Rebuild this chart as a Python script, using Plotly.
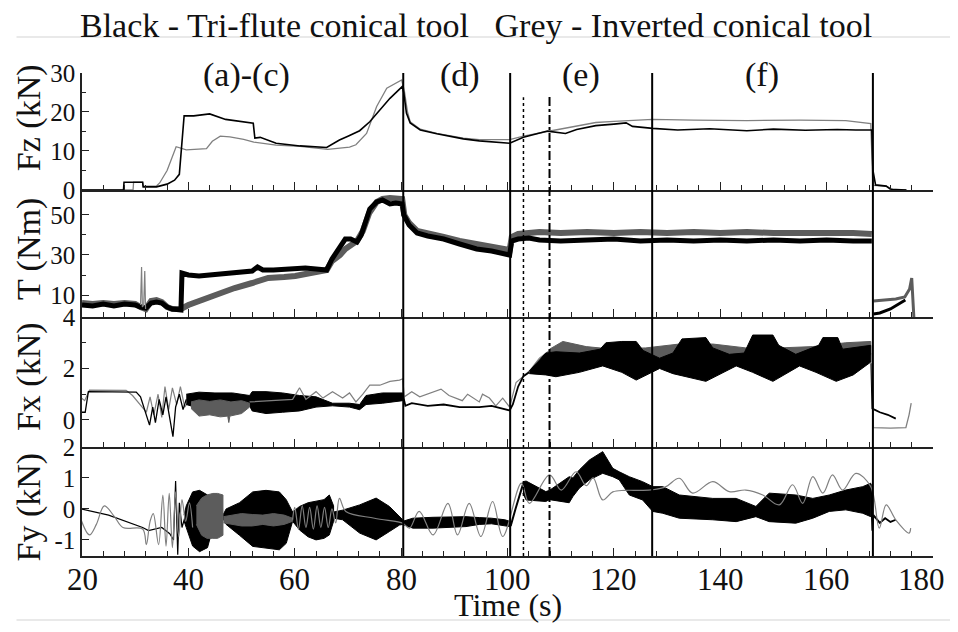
import plotly.graph_objects as go
from plotly.subplots import make_subplots

# ---------------- data ----------------
# Fz (kN)
fz_black_t = [20, 27.8, 27.9, 31.4, 31.5, 34.0, 36.0, 37.4, 38.3, 39.2, 41.0, 44.0, 47.0, 50.0, 51.5, 52.2, 52.5, 53.5,
              56.5, 61.0, 66.0, 68.4, 70.0, 72.2, 74.1, 76.0, 77.9, 80.2, 80.5, 81.0, 81.7, 83.6, 86.7, 91.7, 94.7,
              100.4, 103.0, 107.5, 110.9, 113.0, 116.6, 120.0, 122.3, 123.5, 127.3, 132.0, 138.0, 145.0, 150.0, 156.0,
              162.0, 165.5, 168.5, 168.7, 169.2, 171.2, 172.0, 175.0]
fz_black = [0, 0, 2, 2, 0.8, 0.8, 1.5, 2.5, 4, 19, 19, 19.5, 18.1, 17.6, 17.4, 17.1, 13.3, 13.5,
            12.0, 11.3, 10.9, 12.8, 13.8, 15.2, 17.5, 20.5, 23.5, 26.5, 24.9, 19.7, 17.2, 15.4, 14.4, 13.1, 12.6,
            12.0, 13.5, 15.1, 14.5, 15.5, 16.5, 16.9, 17.2, 16.3, 15.8, 15.4, 15.7, 15.2, 15.6, 15.3,
            15.5, 15.4, 15.4, 5.1, 1.3, 1.0, 0.2, 0]
fz_grey_t = [20, 29.6, 29.7, 31.4, 31.5, 34.0, 34.6, 36.0, 37.7, 39.6, 43.4, 44.5, 46.0, 47.8, 50.4, 52.3, 56.5, 61.0,
             66.2, 70.3, 71.5, 73.5, 75.4, 77.3, 80.1, 80.6, 81.2, 81.7, 83.6, 86.7, 91.7, 94.7, 100.4, 103.0, 107.5,
             112.0, 116.6, 120.0, 124.0, 127.3, 135.0, 145.0, 155.0, 163.6, 168.3, 168.7, 171.2, 172.5, 175.0]
fz_grey = [0, 0, 2, 2, 1, 1, 1.8, 5, 11.1, 10.3, 10.6, 12.5, 13.8, 13.6, 13.0, 12.3, 11.5, 11.2,
           10.4, 11.0, 11.6, 14.5, 21.4, 26.1, 28.2, 25.5, 20.0, 17.5, 15.6, 14.5, 13.3, 12.9, 12.9, 13.8, 15.0,
           16.2, 17.3, 17.6, 17.8, 18.1, 17.9, 17.8, 17.9, 17.8, 17.0, 1.2, 1.0, 0.1, 0]

# T (Nm) - centre of the noisy traces
t_black_t = [20, 22, 24, 26, 28, 30, 31, 32, 33, 34, 35, 36, 37, 38.6, 38.8, 40, 42, 44, 46, 48, 50, 52, 53, 54, 56,
             58, 60, 62, 64, 66, 67, 68, 69.5, 70.5, 71.7, 72.5, 73.2, 74.1, 75.4, 76.5, 77.9, 79, 80.2, 80.5, 81.5,
             83, 85, 88, 91, 94.2, 97, 100.4, 100.8, 102, 104, 106, 110, 115, 120, 125, 130, 135, 140, 145, 150,
             155, 160, 165, 168.5]
t_black = [5, 4.5, 5.5, 4.5, 5.5, 5, 4, 3.5, 6, 6.5, 6, 4, 3, 2.5, 21, 20, 19.5, 20, 20.5, 21, 21.5, 22, 24, 22.5, 22.5,
           23, 23, 23.5, 23, 22.5, 28, 32, 38, 38, 36.5, 40, 46, 53, 56.5, 57.5, 55.5, 56, 55.5, 50, 45,
           41, 39.5, 38, 35.5, 33, 32, 30, 37, 38, 38.5, 37.5, 37, 37.5, 38, 37, 37.5, 37, 37.5, 37, 37.5,
           37, 37.5, 37, 37]
t_grey_t = [20, 22, 24, 26, 28, 30, 31, 32, 33, 34, 35, 36, 37, 38.6, 40, 42.4, 45, 48.7, 52, 55, 58, 60.1, 63, 66, 67,
            68.5, 69.5, 70.5, 71.7, 72.8, 74, 75.4, 76.5, 77.9, 79, 80.2, 80.6, 81.5, 83, 85, 88, 91, 94.7, 97.5,
            100.4, 100.8, 102, 104, 106, 110, 115, 120, 125, 130, 135, 140, 145, 150, 155, 160, 165, 168.5]
t_grey = [6, 5.5, 6, 5.5, 6, 5.5, 4, 3, 7, 7.5, 6.5, 4, 3, 3, 5, 7.5, 10, 13.5, 16, 18.5, 19, 19.5, 21, 22.5, 27,
          30, 33, 35, 37, 42, 51, 56.5, 58, 58.5, 58, 58, 50, 46, 42, 40.5, 39, 37, 35, 34,
          32.5, 39, 40.5, 41, 41.5, 41, 41.5, 41, 41.5, 41, 41.5, 41, 41.5, 41, 41, 41.5, 41, 40.5]
t_spike_t = [31.0, 31.2, 31.35, 31.6, 31.8, 31.95]
t_spike = [5, 24, 4, 5, 22, 3]
t_black_end_t = [168.8, 170, 172, 174, 174.8]
t_black_end = [0.5, 1, 3, 6, 7.5]
t_grey_end_t = [168.8, 171, 173, 174.7, 175.6, 176, 176.3, 176.4]
t_grey_end = [7, 7.5, 8, 9, 13, 18.5, 0, -1]

# Fx (kN)
fx_black_a_t = [19.9, 20.6, 21.2, 25.0, 30.2, 31.0, 32.0, 32.7, 33.3, 33.8, 34.5, 35.2, 35.8, 36.4, 37.1, 37.6,
                38.3, 39.0, 39.6]
fx_black_a = [0.3, 0.3, 1.1, 1.1, 1.08, 0.9, 0.3, -0.2, 0.5, -0.1, 0.8, 0.2, 0.9, 0.1, -0.65, 0.5, 1.0, 0.4, 0.8]
fx_black_band1_t = [39.6, 42.0, 45.0, 48.3, 51.5, 52.0, 54.6, 57.7, 60.9, 64.0, 67.1, 70.3, 72.2, 73.4, 76.5, 80.3]
fx_black_band1_hi = [1.0, 1.08, 1.05, 1.05, 0.95, 1.1, 1.1, 1.05, 0.95, 0.9, 0.65, 0.65, 0.6, 0.95, 1.05, 1.05]
fx_black_band1_lo = [0.6, 0.45, 0.45, 0.5, 0.55, 0.35, 0.25, 0.3, 0.35, 0.5, 0.55, 0.5, 0.4, 0.6, 0.65, 0.75]
fx_black_b_t = [80.3, 80.8, 82.0, 85.0, 88.0, 91.0, 94.7, 97.0, 100.4, 101.0, 102.0, 103.0, 104.1]
fx_black_b = [1.0, 0.55, 0.65, 0.55, 0.6, 0.5, 0.5, 0.55, 0.37, 0.6, 1.3, 1.7, 1.85]
fx_black_band2_hi_t = [104.1, 107.2, 109.1, 113.5, 117.4, 118.5, 121.5, 124.2, 125.5, 128.6, 131.1, 132.8, 137.3,
                       138.6, 141.7, 144.5, 146.1, 149.9, 151.0, 154.2, 158.5, 159.3, 162.1, 163.0, 168.3]
fx_black_band2_hi = [1.9, 2.6, 2.65, 2.6, 2.75, 3.0, 3.05, 3.05, 2.7, 2.4, 2.6, 3.15, 3.2,
                     2.8, 2.55, 2.6, 3.3, 3.3, 2.9, 2.55, 2.9, 3.2, 3.2, 2.75, 2.9]
fx_black_band2_lo_t = [104.1, 107.2, 109.1, 113.5, 117.9, 121.5, 124.2, 128.6, 131.1, 137.3, 143.0, 146.1, 149.9,
                       154.9, 158.0, 161.8, 165.0, 168.3]
fx_black_band2_lo = [1.8, 1.75, 1.68, 1.85, 2.1, 1.85, 1.55, 2.0, 1.8, 1.5, 2.1, 1.85, 1.5, 2.1, 1.85, 1.5, 1.75,
                     2.25]
fx_black_c_t = [168.4, 168.6, 169.0, 170.0, 171.5, 173.0]
fx_black_c = [2.2, 0.45, 0.4, 0.3, 0.2, 0.05]
fx_grey_a_t = [19.9, 20.5, 21.4, 28.3, 29.5, 31.0, 32.1, 32.8, 33.5, 34.3, 35.0, 35.6, 36.3, 37.0, 37.8, 38.5,
               39.3, 40.0, 40.5]
fx_grey_a = [0.85, 0.75, 1.16, 1.15, 0.95, 0.6, 0.3, 0.9, 0.2, 1.0, 0.1, 1.3, 0.4, 1.25, 0.6, 1.3, 0.5, 0.7, 0.7]
fx_grey_band1_hi_t = [40.5, 42.0, 44.0, 46.0, 48.0, 50.0, 51.5]
fx_grey_band1_hi = [0.7, 0.78, 0.72, 0.78, 0.7, 0.75, 0.65]
fx_grey_band1_lo_t = [40.5, 42.0, 44.0, 46.0, 47.4, 47.6, 47.8, 50.0, 51.5]
fx_grey_band1_lo = [0.45, 0.15, 0.2, 0.12, 0.15, -0.1, 0.15, 0.25, 0.5]
fx_grey_b_t = [51.5, 55.0, 58.0, 59.6, 60.9, 62.1, 64.0, 65.3, 67.1, 69.0, 70.3, 71.5, 72.8, 74.1, 76.0, 77.9, 79.7,
               80.3, 80.6, 82.0, 83.5, 85.5, 87.5, 89.0, 91.5, 92.5, 94.7, 95.3, 96.6, 97.8, 99.1, 100.4, 101.0,
               101.6, 102.9, 104.1, 106.0, 107.9]
fx_grey_b = [0.7, 0.75, 0.8, 0.8, 1.25, 0.8, 1.1, 0.85, 1.1, 0.85, 1.05, 0.7, 1.0, 1.35, 1.35, 1.5, 1.55,
             1.6, 0.9, 1.1, 0.9, 1.05, 1.2, 0.95, 0.75, 1.0, 0.7, 1.0, 0.85, 0.55, 0.85, 0.5, 1.0,
             1.45, 1.68, 1.9, 2.4, 2.7]
fx_grey_band2_hi_t = [107.9, 110.4, 114.8, 119.8, 126.0, 132.3, 138.6, 144.8, 151.1, 157.4, 163.6, 168.3]
fx_grey_band2_hi = [2.75, 3.05, 2.85, 2.75, 2.8, 2.95, 2.95, 2.8, 2.8, 2.85, 3.0, 3.05]
fx_grey_band2_lo_t = [107.9, 113.5, 119.8, 126.0, 129.2, 132.3, 138.6, 144.8, 151.1, 157.4, 163.6, 168.3]
fx_grey_band2_lo = [2.3, 2.55, 2.35, 2.3, 2.35, 2.5, 2.45, 2.25, 2.4, 2.35, 2.45, 2.55]
fx_grey_c_t = [168.5, 168.8, 172.0, 174.9, 175.5, 175.9]
fx_grey_c = [2.6, -0.3, -0.32, -0.3, 0.2, 0.65]

# Fy (kN)
fy_black_a_t = [19.8, 25.0, 31.4, 32.5, 35.0, 36.5, 37.2, 37.6, 38.0, 38.3, 38.8, 39.3]
fy_black_a = [0.0, -0.2, -0.6, -0.7, -0.6, -0.8, -1.0, 0.9, -1.48, 0.2, -0.6, -0.3]
fy_lobe1_t = [39.2, 39.6, 40.8, 42.1, 43.6, 44.6, 45.0]
fy_lobe1_hi = [-0.2, 0.1, 0.55, 0.6, 0.45, 0.1, -0.35]
fy_lobe1_lo = [-0.4, -0.6, -1.2, -1.38, -1.25, -0.6, -0.35]
fy_lobe2_t = [46.5, 47.1, 49.6, 52.1, 54.6, 57.1, 58.4, 59.6]
fy_lobe2_hi = [-0.2, 0.0, 0.2, 0.55, 0.6, 0.55, 0.3, -0.1]
fy_lobe2_lo = [-0.3, -0.5, -0.85, -1.21, -1.27, -1.32, -1.11, -0.4]
fy_lobe3_t = [59.6, 60.9, 62.5, 64.0, 65.5, 66.5, 67.3]
fy_lobe3_hi = [-0.1, 0.08, 0.2, 0.24, 0.3, 0.45, 0.1]
fy_lobe3_lo = [-0.4, -0.68, -0.9, -1.0, -0.95, -0.84, -0.4]
fy_lobe4_t = [67.3, 69.0, 72.2, 75.3, 77.8, 79.7, 80.3]
fy_lobe4_hi = [-0.1, -0.04, 0.13, 0.35, 0.08, -0.25, -0.35]
fy_lobe4_lo = [-0.3, -0.35, -0.78, -1.0, -0.73, -0.52, -0.5]
fy_band5_t = [80.3, 82.2, 86.0, 92.2, 94.7, 97.0, 99.5, 100.4]
fy_band5_hi = [-0.4, -0.3, -0.27, -0.25, -0.28, -0.3, -0.35, -0.4]
fy_band5_lo = [-0.5, -0.62, -0.62, -0.57, -0.5, -0.48, -0.55, -0.57]
fy_black_b_t = [100.4, 100.6, 101.5, 102.5, 103.0]
fy_black_b = [-0.5, -0.55, 0.0, 0.6, 0.85]
fy_band6_t = [102.9, 103.5, 107.2, 107.9, 111.6, 112.3, 113.5, 115.4, 117.9, 119.8, 121.0, 122.9, 125.4, 127.3,
              129.2, 132.3, 138.6, 143.0, 146.7, 149.2, 154.2, 157.4, 160.5, 163.6, 166.8, 168.3]
fy_band6_hi = [0.88, 0.9, 0.56, 0.6, 1.04, 1.0, 1.26, 1.58, 1.85, 1.31, 1.2, 1.04, 0.88, 0.72,
               0.72, 0.45, 0.34, 0.34, 0.08, 0.51, 0.45, 0.34, 0.45, 0.61, 0.72, 0.83]
fy_band6_lo = [0.5, 0.29, 0.24, 0.3, 0.2, 0.4, 0.67, 0.94, 1.15, 1.04, 0.94, 0.45, 0.29, -0.08,
               -0.14, -0.3, -0.35, -0.41, -0.25, -0.41, -0.46, -0.30, -0.08, -0.03, -0.14, -0.25]
fy_black_c_t = [168.3, 168.6, 168.8, 169.3, 170.0, 171.0, 172.0, 173.0]
fy_black_c = [0.8, -0.7, -0.2, -0.3, -0.45, -0.3, -0.42, -0.35]
fy_grey_a_t = [19.84, 21.4, 22.7, 24.2, 26.1, 27.7, 31.4, 32.1, 32.8, 33.4, 34.4, 35.2, 35.8, 36.4, 37.0, 37.6,
               38.2, 38.8, 39.5, 40.2, 40.8]
fy_grey_a = [-0.36, -0.84, -0.5, 0.1, -0.25, -0.6, -0.65, -1.15, -0.4, -0.15, -1.15, 0.45, -1.2, 0.5, -1.25, 0.55,
             -0.9, 0.3, -0.4, 0.2, -0.6]
fy_grey_band1_t = [41.5, 42.5, 43.5, 44.6, 45.5, 46.5]
fy_grey_band1_hi = [0.1, 0.35, 0.45, 0.5, 0.5, 0.45]
fy_grey_band1_lo = [-0.5, -0.85, -0.95, -0.95, -0.95, -0.85]
fy_grey_band2_t = [46.6, 48.0, 50.0, 52.0, 54.0, 56.0, 58.0, 59.6]
fy_grey_band2_hi = [-0.25, -0.2, -0.15, -0.18, -0.2, -0.15, -0.2, -0.3]
fy_grey_band2_lo = [-0.45, -0.5, -0.55, -0.55, -0.5, -0.55, -0.5, -0.4]
fy_grey_b_t = [59.6, 60.0, 60.7, 61.4, 62.1, 62.8, 63.5, 64.2, 64.9, 65.6, 66.3, 67.0, 67.7, 68.4, 69.6, 75.0,
               80.3, 80.6, 81.6, 83.4, 86.0, 88.8, 90.6, 92.8, 95.0, 97.2, 99.1, 102.6, 104.1, 107.9, 110.1,
               112.9, 114.8, 116.1, 117.9, 119.8, 122.0, 125.0, 127.3, 129.8, 132.3, 134.8, 138.6, 141.7, 144.8,
               148.0, 151.1, 153.6, 155.5, 157.4, 159.3, 161.1, 163.0, 165.5, 168.3, 169.9, 171.2, 173.0, 175.5,
               175.8]
fy_grey_b = [-0.35, 0.05, -0.65, 0.1, -0.6, 0.05, -0.65, 0.1, -0.6, 0.05, -0.6, 0.0, -0.45, 0.34, -0.08, -0.3,
             -0.46, -0.5, -0.62, -0.08, -0.84, 0.18, -0.84, 0.18, -0.89, 0.24, -0.89, 0.83, 0.18, 1.1, 0.61,
             1.2, 0.75, 1.0, 0.29, 0.55, 0.6, 0.6, 0.62, 0.72, 0.99, 0.51, 0.88, 0.56, 0.61,
             0.45, 0.13, 0.78, 0.18, 1.04, 0.51, 1.10, 0.61, 1.15, 0.72, -0.62, 0.13, -0.35, -0.78,
             -0.62]

# stage markers (s) and labels
stage_solid = [80.4, 100.5, 127.2, 168.7]
stage_dotted = 103.0
stage_dashdot = 107.9
stage_labels = ["(a)-(c)", "(d)", "(e)", "(f)"]
stage_label_x = [50.9, 91.0, 113.9, 147.9]

panel_titles = ["Fz (kN)", "T (Nm)", "Fx (kN)", "Fy (kN)"]
x_ticks = [20, 40, 60, 80, 100, 120, 140, 160, 180]
x_tick_labels = ["20", "40", "60", "80", "100", "120", "140", "160", "180"]

# ---------------- figure ----------------
BLACK = "#000000"
GREY = "#808080"
DGREY = "#5c5c5c"
FONT = "Liberation Serif"

fig = make_subplots(rows=4, cols=1, shared_xaxes=True, vertical_spacing=0)


def line(t, v, row, color, width=1.3, shape="linear"):
    fig.add_trace(go.Scatter(x=t, y=v, mode="lines", line=dict(color=color, width=width, shape=shape),
                             showlegend=False, hoverinfo="skip"), row=row, col=1)


def band(t_hi, hi, t_lo, lo, row, color):
    fig.add_trace(go.Scatter(x=list(t_hi) + list(t_lo)[::-1], y=list(hi) + list(lo)[::-1], mode="lines",
                             fill="toself", fillcolor=color, line=dict(color=color, width=1),
                             showlegend=False, hoverinfo="skip"), row=row, col=1)


# Fz
line(fz_grey_t, fz_grey, 1, GREY, 1.3)
line(fz_black_t, fz_black, 1, BLACK, 1.6)

# T
line(t_grey_t, t_grey, 2, DGREY, 6)
line(t_black_t, t_black, 2, BLACK, 5)
line(t_spike_t, t_spike, 2, GREY, 1.2)
line(t_grey_end_t, t_grey_end, 2, DGREY, 3)
line(t_black_end_t, t_black_end, 2, BLACK, 3)

# Fx
line(fx_grey_a_t, fx_grey_a, 3, GREY, 1.2)
line(fx_black_a_t, fx_black_a, 3, BLACK, 1.3)
band(fx_black_band1_t, fx_black_band1_hi, fx_black_band1_t, fx_black_band1_lo, 3, BLACK)
band(fx_grey_band1_hi_t, fx_grey_band1_hi, fx_grey_band1_lo_t, fx_grey_band1_lo, 3, DGREY)
line(fx_grey_b_t, fx_grey_b, 3, GREY, 1.2)
line(fx_black_b_t, fx_black_b, 3, BLACK, 1.8)
band(fx_grey_band2_hi_t, fx_grey_band2_hi, fx_grey_band2_lo_t, fx_grey_band2_lo, 3, DGREY)
band(fx_black_band2_hi_t, fx_black_band2_hi, fx_black_band2_lo_t, fx_black_band2_lo, 3, BLACK)
line(fx_black_c_t, fx_black_c, 3, BLACK, 1.8)
line(fx_grey_c_t, fx_grey_c, 3, GREY, 1.3)

# Fy
line(fy_black_a_t, fy_black_a, 4, BLACK, 1.2)
for th, hi, lo in [(fy_lobe1_t, fy_lobe1_hi, fy_lobe1_lo), (fy_lobe2_t, fy_lobe2_hi, fy_lobe2_lo),
                   (fy_lobe3_t, fy_lobe3_hi, fy_lobe3_lo), (fy_lobe4_t, fy_lobe4_hi, fy_lobe4_lo),
                   (fy_band5_t, fy_band5_hi, fy_band5_lo)]:
    band(th, hi, th, lo, 4, BLACK)
line(fy_black_b_t, fy_black_b, 4, BLACK, 2)
band(fy_band6_t, fy_band6_hi, fy_band6_t, fy_band6_lo, 4, BLACK)
line(fy_black_c_t, fy_black_c, 4, BLACK, 1.8)
line(fy_grey_a_t, fy_grey_a, 4, GREY, 1.2, "spline")
band(fy_grey_band1_t, fy_grey_band1_hi, fy_grey_band1_t, fy_grey_band1_lo, 4, DGREY)
band(fy_grey_band2_t, fy_grey_band2_hi, fy_grey_band2_t, fy_grey_band2_lo, 4, DGREY)
line(fy_grey_b_t, fy_grey_b, 4, GREY, 1.2, "spline")

# ---------------- axes ----------------
domains = [[0.7578, 1.0], [0.4948, 0.7578], [0.2257, 0.4948], [0.0, 0.2257]]
yranges = [[0, 30], [-1, 62.5], [-1.05, 4], [-1.52, 2]]
ytickvals = [[0, 10, 20, 30], [10, 30, 50], [0, 2, 4], [-1, 0, 1, 2]]
yticktext = [["0", "10", "20", "30"], ["10", "30", "50"], ["0", "2", "4"], ["-1", "0", "1", "2"]]
yminor = [[5, 15, 25], [20, 40], [1, 3], []]

for i in range(4):
    ya = "yaxis" if i == 0 else f"yaxis{i + 1}"
    xa = "xaxis" if i == 0 else f"xaxis{i + 1}"
    fig.layout[ya].update(domain=domains[i], range=yranges[i], tickmode="array", tickvals=ytickvals[i],
                          ticktext=yticktext[i], ticks="inside", ticklen=7, tickwidth=1.2, tickcolor="#222",
                          showline=True, linecolor="#222", linewidth=1.5, showgrid=False, zeroline=False,
                          automargin=False, tickfont=dict(family=FONT, size=25, color="#111"),
                          minor=dict(tickmode="array", tickvals=yminor[i], ticks="inside", ticklen=4,
                                     tickcolor="#222", showgrid=False))
    fig.layout[xa].update(range=[20, 180], tickmode="array", tickvals=x_ticks, ticks="inside", ticklen=8,
                          tickwidth=1.2, tickcolor="#222", showline=True, linecolor="#222", linewidth=1.5,
                          showgrid=False, zeroline=False, showticklabels=False, automargin=False,
                          minor=dict(dtick=4, tick0=20, ticks="inside", ticklen=5, tickcolor="#222",
                                     showgrid=False))

# ---------------- shapes ----------------
shapes = []
for xs in stage_solid:
    shapes.append(dict(type="line", xref="x", yref="paper", x0=xs, x1=xs, y0=0, y1=1.0,
                       line=dict(color=BLACK, width=2)))
shapes.append(dict(type="line", xref="x", yref="paper", x0=stage_dotted, x1=stage_dotted, y0=0, y1=0.95,
                   line=dict(color=BLACK, width=1.5, dash="dot")))
shapes.append(dict(type="line", xref="x", yref="paper", x0=stage_dashdot, x1=stage_dashdot, y0=0, y1=0.952,
                   line=dict(color=BLACK, width=2, dash="dashdot")))
for yy in [1.0745, -0.1325]:
    shapes.append(dict(type="line", xref="paper", yref="paper", x0=-0.077, x1=1.03, y0=yy, y1=yy,
                       line=dict(color="#e2e2e2", width=1.5), layer="below"))

# ---------------- annotations ----------------
ann = []
ann.append(dict(text="Black - Tri-flute conical tool   Grey - Inverted conical tool", xref="paper", yref="paper",
                x=0.463, y=1.099, xanchor="center", yanchor="middle", showarrow=False,
                font=dict(family=FONT, size=34, color="#111")))
for lab, lx in zip(stage_labels, stage_label_x):
    ann.append(dict(text=lab, xref="x", yref="paper", x=lx, y=0.996, xanchor="center", yanchor="middle",
                    showarrow=False, font=dict(family=FONT, size=34, color="#111")))
for title, yy in zip(panel_titles, [0.907, 0.636, 0.371, 0.101]):
    ann.append(dict(text=title, xref="paper", yref="paper", x=-0.062, y=yy, xanchor="center", yanchor="middle",
                    textangle=-90, showarrow=False, font=dict(family=FONT, size=34, color="#111")))
# x tick labels of the bottom axis (the last one is kept inside the window edge)
for k, (xv, xl) in enumerate(zip(x_ticks, x_tick_labels)):
    last = k == len(x_ticks) - 1
    ann.append(dict(text=xl, xref="x4", yref="paper", x=xv, y=-0.048,
                    xanchor="right" if last else "center", xshift=14 if last else 0, yanchor="middle",
                    showarrow=False, font=dict(family=FONT, size=31, color="#111")))
ann.append(dict(text="Time (s)", xref="paper", yref="paper", x=0.5, y=-0.1014, xanchor="center",
                yanchor="middle", showarrow=False, font=dict(family=FONT, size=32, color="#111")))

# the page body adds an 8 px offset on every side, so the figure is 16 px smaller than the window
fig.update_layout(width=950, height=616, margin=dict(l=74, r=25, t=65, b=68),
                  plot_bgcolor="white", paper_bgcolor="white", shapes=shapes, annotations=ann,
                  showlegend=False, font=dict(family=FONT))

fig.write_html("out.html")
